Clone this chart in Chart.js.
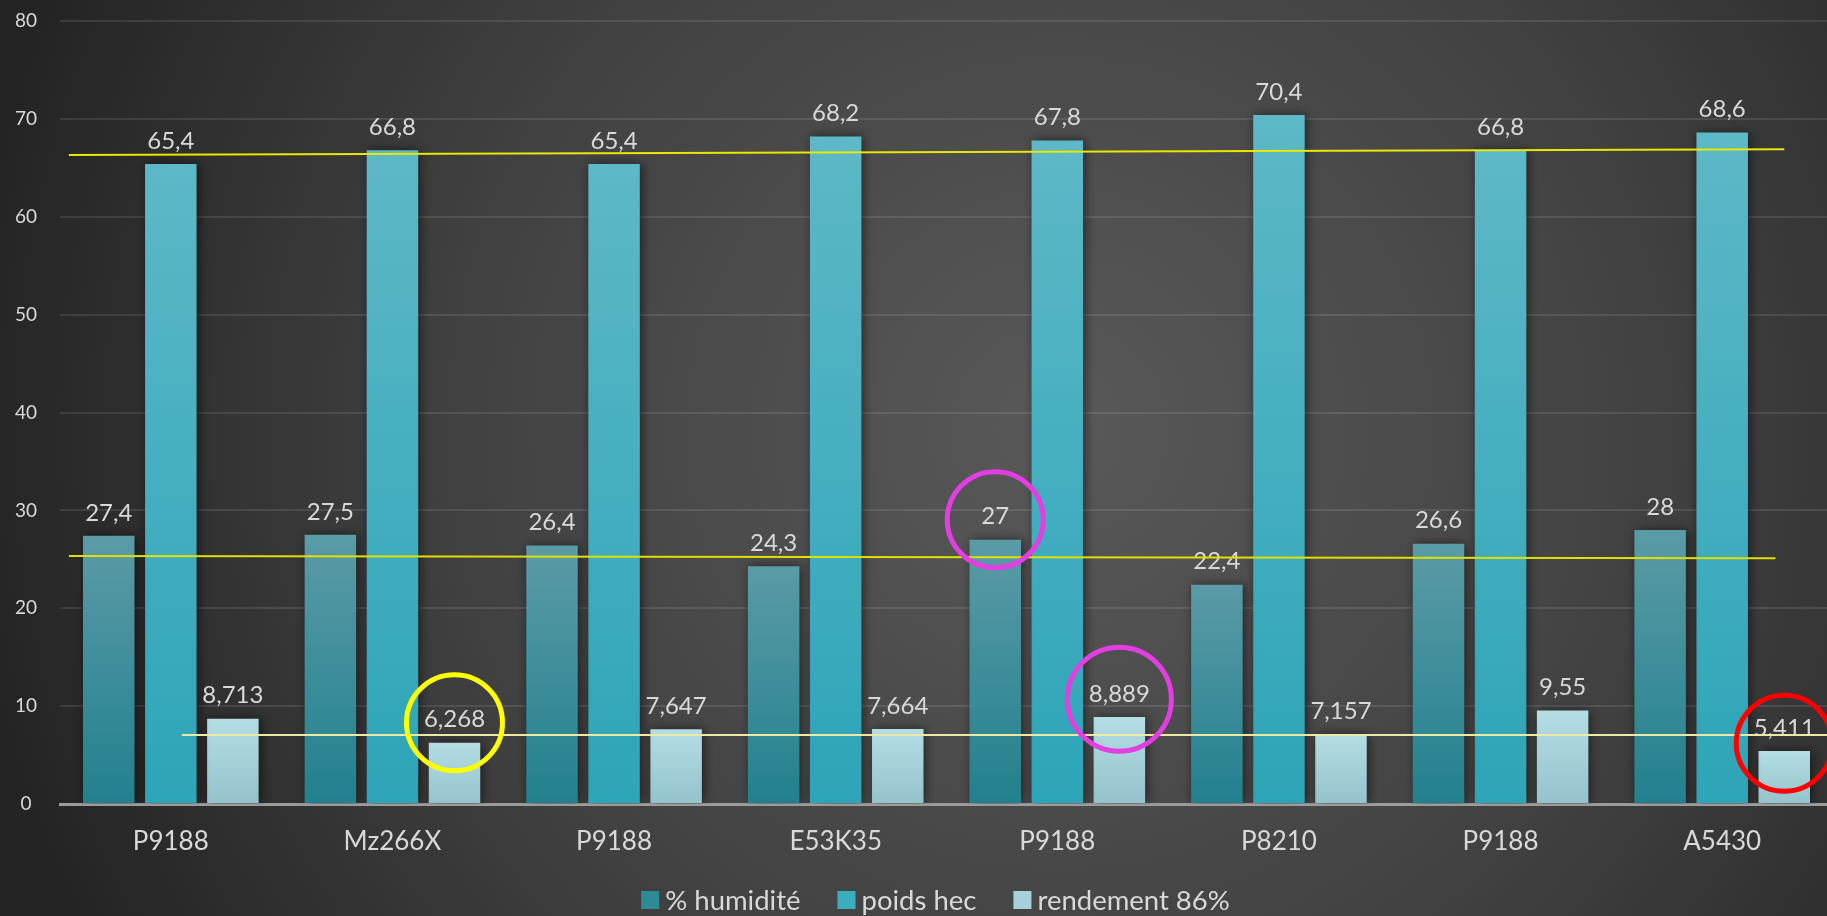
<!DOCTYPE html>
<html>
<head>
<meta charset="utf-8">
<script src="https://cdn.jsdelivr.net/npm/chart.js@4.4.0/dist/chart.umd.min.js"></script>
<style>
html,body{margin:0;padding:0;background:#2a2a2a;}
#wrap{width:1827px;height:916px;position:relative;overflow:hidden;}
</style>
</head>
<body>
<div id="wrap"><canvas id="c" width="1827" height="916"></canvas></div>
<script>
// ---- data ----
const categories = ['P9188','Mz266X','P9188','E53K35','P9188','P8210','P9188','A5430'];
const humidite = [27.4, 27.5, 26.4, 24.3, 27, 22.4, 26.6, 28];
const poidsHec = [65.4, 66.8, 65.4, 68.2, 67.8, 70.4, 66.8, 68.6];
const rendement = [8.713, 6.268, 7.647, 7.664, 8.889, 7.157, 9.55, 5.411];
const seriesNames = ['% humidité', 'poids hec', 'rendement 86%'];
const yTicks = [0, 10, 20, 30, 40, 50, 60, 70, 80];

// hand-drawn reference lines (category index, value)
const refLineStart = [[-0.46, 66.3], [-0.46, 25.35], [0.05, 7.05]];
const refLineEnd   = [[7.28, 66.9], [7.24, 25.1], [7.5, 7.05]];
// highlight circles: category index, series index, value at centre
const circleCategory = [1, 4, 4, 7];
const circleSeries   = [2, 0, 2, 2];
const circleValue    = [8.3, 29.05, 10.7, 6.2];

// ---- styles ----
const refLineColors = ['#e8e800', '#e0e000', '#ece8a6'];
const circleColors = ['#ffff00', '#e23ee2', '#e23ee2', '#ff0000'];
const circleRadius = [48, 48, 52, 48];
const gradTop = ['#5a9ba6', '#5db8c7', '#b4dde4'];
const gradBot = ['#22808e', '#2da5b8', '#94c3cc'];
const legendFill = ['#2f8a97', '#3aadbf', '#a6d1d9'];
const FONT = 'Lato, "Open Sans", sans-serif';
const PLOT_OVERFLOW_RIGHT = 6; // plot area runs slightly past the canvas edge

function barGradient(i) {
  return function(ctx) {
    const chart = ctx.chart;
    if (!chart.chartArea || ctx.type !== 'data') return legendFill[i];
    const y = chart.scales.y;
    const top = y.getPixelForValue(ctx.parsed.y);
    const bot = y.getPixelForValue(0);
    if (!isFinite(top) || top === bot) return legendFill[i];
    const g = chart.ctx.createLinearGradient(0, top, 0, bot);
    g.addColorStop(0, gradTop[i]);
    g.addColorStop(1, gradBot[i]);
    return g;
  };
}

const stretchPlugin = {
  id: 'stretch',
  afterLayout(chart) {
    const xs = chart.scales.x;
    chart.chartArea.right += PLOT_OVERFLOW_RIGHT;
    chart.chartArea.width += PLOT_OVERFLOW_RIGHT;
    xs.right += PLOT_OVERFLOW_RIGHT;
    xs.width += PLOT_OVERFLOW_RIGHT;
    xs.configure();
    const ys = chart.scales.y;
    ys.configure();
  }
};

const bgPlugin = {
  id: 'bg',
  beforeDraw(chart) {
    const c = chart.ctx, w = chart.width, h = chart.height;
    c.save();
    const g = c.createRadialGradient(1060, 430, 0, 1060, 430, 1100);
    g.addColorStop(0, '#595959');
    g.addColorStop(0.55, '#414141');
    g.addColorStop(1, '#242424');
    c.fillStyle = g;
    c.fillRect(0, 0, w, h);
    c.restore();
  }
};

const shadowPlugin = {
  id: 'shadow',
  beforeDatasetsDraw(chart) {
    const c = chart.ctx;
    c.save();
    c.shadowColor = 'rgba(0,0,0,0.55)';
    c.shadowBlur = 10;
    c.shadowOffsetX = 2;
    c.shadowOffsetY = 0;
  },
  afterDatasetsDraw(chart) {
    chart.ctx.restore();
  }
};

const labelPlugin = {
  id: 'vlabels',
  afterDatasetsDraw(chart) {
    const c = chart.ctx;
    c.save();
    c.font = '24px ' + FONT;
    c.fillStyle = '#d9d9d9';
    c.textAlign = 'center';
    c.textBaseline = 'bottom';
    chart.data.datasets.forEach((ds, di) => {
      const meta = chart.getDatasetMeta(di);
      meta.data.forEach((el, i) => {
        const txt = String(ds.data[i]).replace('.', ',');
        c.fillText(txt, el.x, el.y - 11);
      });
    });
    c.restore();
  }
};

const legendPlugin = {
  id: 'myLegend',
  afterDraw(chart) {
    const c = chart.ctx;
    c.save();
    c.font = '27.5px ' + FONT;
    c.textBaseline = 'middle';
    c.textAlign = 'left';
    const box = 18, gap = 6, itemGap = 37;
    const widths = seriesNames.map(n => box + gap + c.measureText(n).width);
    const total = widths.reduce((a, b) => a + b, 0) + itemGap * (widths.length - 1);
    let x = (60 + chart.width) / 2 - 8 - total / 2;
    const y = 900;
    seriesNames.forEach((n, i) => {
      c.fillStyle = legendFill[i];
      c.fillRect(x, y - box / 2, box, box);
      c.fillStyle = '#d9d9d9';
      c.fillText(n, x + box + gap, y + 1);
      x += widths[i] + itemGap;
    });
    c.restore();
  }
};

const annoPlugin = {
  id: 'anno',
  afterDraw(chart) {
    const c = chart.ctx, xs = chart.scales.x, ys = chart.scales.y;
    c.save();
    refLineStart.forEach((s, i) => {
      const e = refLineEnd[i];
      c.beginPath();
      c.strokeStyle = refLineColors[i];
      c.lineWidth = 2;
      c.moveTo(xs.getPixelForValue(s[0]), ys.getPixelForValue(s[1]));
      c.lineTo(xs.getPixelForValue(e[0]), ys.getPixelForValue(e[1]));
      c.stroke();
    });
    circleCategory.forEach((cat, i) => {
      const el = chart.getDatasetMeta(circleSeries[i]).data[cat];
      const cx = el.x, cy = ys.getPixelForValue(circleValue[i]);
      c.beginPath();
      c.strokeStyle = circleColors[i];
      c.lineWidth = 5;
      c.arc(cx, cy, circleRadius[i], 0, Math.PI * 2);
      c.stroke();
    });
    c.restore();
  }
};

const seriesData = [humidite, poidsHec, rendement];
new Chart(document.getElementById('c'), {
  type: 'bar',
  data: {
    labels: categories,
    datasets: seriesData.map((d, i) => ({
      label: seriesNames[i],
      data: d,
      backgroundColor: barGradient(i),
      borderWidth: 0,
      barPercentage: 0.83,
      categoryPercentage: 0.84
    }))
  },
  options: {
    responsive: false,
    animation: false,
    devicePixelRatio: 1,
    layout: { padding: { top: 21, right: 0, left: 0, bottom: 59 } },
    plugins: {
      tooltip: { enabled: false },
      legend: { display: false }
    },
    scales: {
      x: {
        afterFit(scale) { scale.height = 53; scale.paddingLeft = 0; scale.paddingRight = 0; },
        grid: { display: false, drawTicks: false },
        border: { display: true, color: '#9c9c9c', width: 3 },
        ticks: { color: '#d9d9d9', font: { family: FONT, size: 26 }, padding: 22 }
      },
      y: {
        min: 0, max: 80,
        afterFit(scale) { scale.width = 60; scale.paddingTop = 0; scale.paddingBottom = 0; },
        afterBuildTicks(scale) { scale.ticks = yTicks.map(v => ({ value: v })); },
        grid: { color: 'rgba(255,255,255,0.1)', lineWidth: 2, drawTicks: false },
        border: { display: false },
        ticks: { color: '#d9d9d9', font: { family: FONT, size: 19 }, padding: 23, crossAlign: 'center' }
      }
    }
  },
  plugins: [stretchPlugin, bgPlugin, shadowPlugin, labelPlugin, annoPlugin, legendPlugin]
});
</script>
</body>
</html>
